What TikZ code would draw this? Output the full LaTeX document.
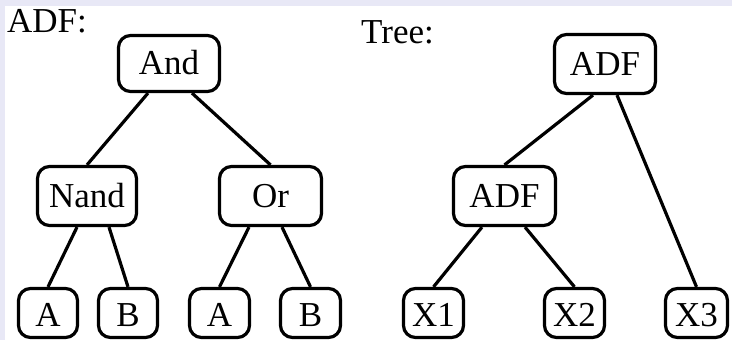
\documentclass[tikz,border=0pt]{standalone}
\usepackage{fontspec}
\setmainfont{Liberation Serif}
\definecolor{lav}{RGB}{232,232,246}
\begin{document}
\begin{tikzpicture}[x=1pt,y=-1pt,
  box/.style={draw, line width=3.2pt, rounded corners=12pt, inner sep=0pt, fill=white,
    font=\fontsize{35}{40}\selectfont, text depth=0pt},
  inner/.style={box, minimum height=59pt, text height=22pt},
  leaf/.style={box, minimum height=49pt, text height=27pt},
  lbl/.style={font=\fontsize{35}{40}\selectfont, anchor=base west, inner sep=0pt},
  edge/.style={line width=3.2pt}]
\fill[lav] (0,0) rectangle (732,340);
\fill[white] (5,6) rectangle (732,340);
\useasboundingbox (0,0) rectangle (732,340);

\node[lbl] (lblA) at (7,32) {ADF:};
\node[lbl] (lblT) at (361,43) {Tree:};

% left tree
\node[inner, minimum width=101pt, minimum height=56pt] (And) at (169,63.5) {And};
\node[inner, minimum width=99pt] (Nand) at (87,196) {Nand};
\node[inner, minimum width=102pt] (Or) at (270.5,196) {Or};
\node[leaf, minimum width=59pt] (A1) at (48,313) {A};
\node[leaf, minimum width=59pt] (B1) at (128,313) {B};
\node[leaf, minimum width=60pt] (A2) at (219.5,313) {A};
\node[leaf, minimum width=60pt] (B2) at (310.5,313) {B};

% right tree
\node[inner, minimum width=101pt] (ADFt) at (605,64) {ADF};
\node[inner, minimum width=102pt] (ADFm) at (504.5,196) {ADF};
\node[leaf, minimum width=60pt] (X1) at (433.5,313) {X1};
\node[leaf, minimum width=60pt] (X2) at (574.5,313) {X2};
\node[leaf, minimum width=62pt] (X3) at (696.5,313) {X3};

\draw[edge] ([xshift=-21pt]And.south) -- (Nand.north);
\draw[edge] ([xshift=23pt]And.south) -- (Or.north);
\draw[edge] ([xshift=-10pt]Nand.south) -- (A1.north);
\draw[edge] ([xshift=22pt]Nand.south) -- (B1.north);
\draw[edge] ([xshift=-21.5pt]Or.south) -- (A2.north);
\draw[edge] ([xshift=11.5pt]Or.south) -- (B2.north);
\draw[edge] ([xshift=-12pt]ADFt.south) -- (ADFm.north);
\draw[edge] ([xshift=12pt]ADFt.south) -- (X3.north);
\draw[edge] ([xshift=-22.5pt]ADFm.south) -- (X1.north);
\draw[edge] ([xshift=20.5pt]ADFm.south) -- (X2.north);
\end{tikzpicture}
\end{document}
